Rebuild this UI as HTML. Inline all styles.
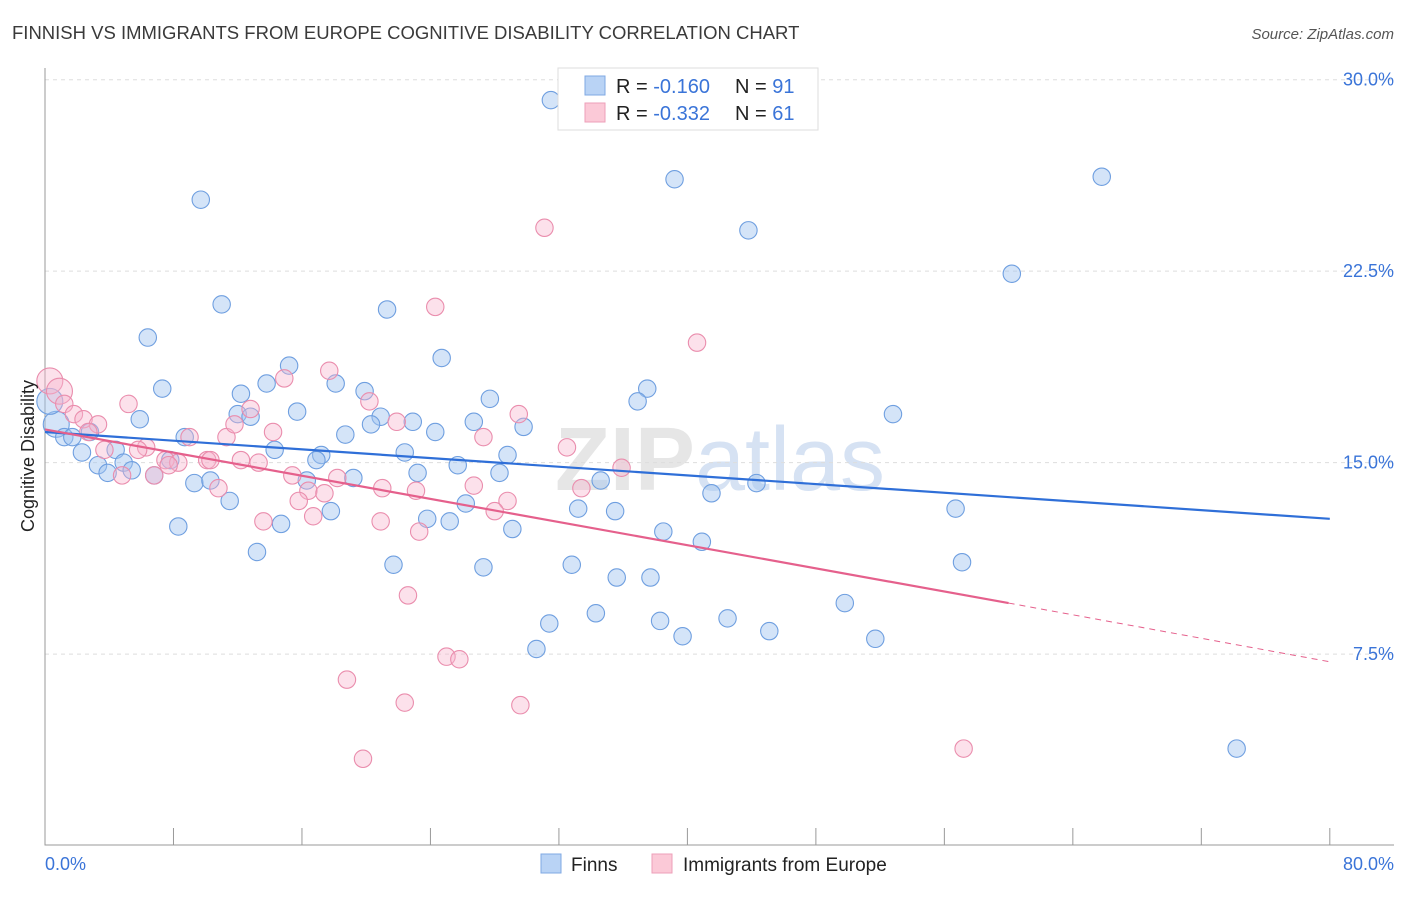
<!DOCTYPE html>
<html><head><meta charset="utf-8"><style>
body{margin:0;background:#fff;font-family:"Liberation Sans",sans-serif;}
svg text{font-family:"Liberation Sans",sans-serif;}
</style></head><body>
<svg id="c" width="1406" height="892">
<text x="12" y="39" font-size="18.5" fill="#3a3a3a">FINNISH VS IMMIGRANTS FROM EUROPE COGNITIVE DISABILITY CORRELATION CHART</text>
<text x="1394" y="39" font-size="15" fill="#555" font-style="italic" text-anchor="end">Source: ZipAtlas.com</text>
<text x="720" y="490" font-size="90" fill="#e6e6e6" text-anchor="middle" font-family="Liberation Serif"><tspan font-weight="bold">ZIP</tspan><tspan fill="#d6e2f3" font-family="Liberation Sans">atlas</tspan></text>
<g id="grid"></g><g id="marks"></g>
<text transform="translate(34,456) rotate(-90)" font-size="18" fill="#222" text-anchor="middle">Cognitive Disability</text>
<text x="45" y="870" font-size="18" fill="#3a74d8">0.0%</text>
<text x="1394" y="870" font-size="18" fill="#3a74d8" text-anchor="end">80.0%</text>
<g>
<rect x="558" y="68" width="260" height="62" fill="#fff" stroke="#ddd"/>
<rect x="585" y="76" width="20" height="19" fill="#b9d3f5" stroke="#7fa8e3"/>
<rect x="585" y="103" width="20" height="19" fill="#fbc9d7" stroke="#ee9fb8"/>
<text x="616" y="93" font-size="20" fill="#222">R = <tspan fill="#3a74d8">-0.160</tspan><tspan x="735">N = </tspan><tspan fill="#3a74d8">91</tspan></text>
<text x="616" y="120" font-size="20" fill="#222">R = <tspan fill="#3a74d8">-0.332</tspan><tspan x="735">N = </tspan><tspan fill="#3a74d8">61</tspan></text>
</g>
<g>
<rect x="541" y="854" width="20" height="19" fill="#b9d3f5" stroke="#7fa8e3"/>
<text x="571" y="871" font-size="19" fill="#222">Finns</text>
<rect x="652" y="854" width="20" height="19" fill="#fbc9d7" stroke="#ee9fb8"/>
<text x="683" y="871" font-size="19" fill="#222">Immigrants from Europe</text>
</g>
</svg>
<script>
const yTicks=[30,22.5,15,7.5];
const xTicks=[0,8,16,24,32,40,48,56,64,72,80];
const finnsX=[31.5,39.2,65.8,9.7,43.8,60.2,11.0,21.3,6.4,24.7,15.2,7.3,13.8,12.2,18.1,19.9,27.7,37.5,36.9,52.8,15.7,5.9,12.0,12.8,20.9,22.9,26.7,29.8,20.3,24.3,18.7,0.7,1.2,1.7,2.8,8.7,2.3,4.4,14.3,22.4,28.8,17.2,16.9,7.8,3.3,4.9,5.4,3.9,25.7,6.8,23.2,28.3,19.2,9.3,10.3,16.3,34.6,44.3,41.5,11.5,26.2,17.8,33.2,35.5,56.7,23.8,25.2,8.3,14.7,29.1,38.5,40.9,13.2,21.7,27.3,32.8,57.1,35.6,37.7,49.8,34.3,31.4,38.3,42.5,39.7,45.1,51.7,30.6,74.2,0.3];
const finnsY=[29.2,26.1,26.2,25.3,24.1,22.4,21.2,21.0,19.9,19.1,18.8,17.9,18.1,17.7,18.1,17.8,17.5,17.9,17.4,16.9,17.0,16.7,16.9,16.8,16.8,16.6,16.6,16.4,16.5,16.2,16.1,16.5,16.0,16.0,16.2,16.0,15.4,15.5,15.5,15.4,15.3,15.3,15.1,15.1,14.9,15.0,14.7,14.6,14.9,14.5,14.6,14.6,14.4,14.2,14.3,14.3,14.3,14.2,13.8,13.5,13.4,13.1,13.2,13.1,13.2,12.8,12.7,12.5,12.6,12.4,12.3,11.9,11.5,11.0,10.9,11.0,11.1,10.5,10.5,9.5,9.1,8.7,8.8,8.9,8.2,8.4,8.1,7.7,3.8,17.4];
const immX=[31.1,24.3,40.6,17.7,14.9,0.3,0.9,1.2,1.8,2.4,3.3,5.2,2.7,12.8,11.3,11.8,9.0,6.3,3.7,5.8,7.5,8.3,10.1,12.2,13.3,10.3,6.8,4.8,7.7,20.2,21.9,14.2,27.3,29.5,32.5,15.4,18.2,21.0,26.7,23.1,35.9,33.4,16.4,17.4,15.8,28.8,10.8,28.0,16.7,20.9,13.6,23.3,22.6,25.0,25.8,18.8,22.4,29.6,19.8,57.2];
const immY=[24.2,21.1,19.7,18.6,18.3,18.2,17.8,17.3,16.9,16.7,16.5,17.3,16.2,17.1,16.0,16.5,16.0,15.6,15.5,15.5,15.1,15.0,15.1,15.1,15.0,15.1,14.5,14.5,14.9,17.4,16.6,16.2,16.0,16.9,15.6,14.5,14.4,14.0,14.1,13.9,14.8,14.0,13.9,13.8,13.5,13.5,14.0,13.1,12.9,12.7,12.7,12.3,9.8,7.4,7.3,6.5,5.6,5.5,3.4,3.8];
const finnsLine=[16.2,12.8];
const immLine=[16.3,9.5,7.2];
const sx=v=>45+v*16.06, sy=v=>845.6-v*25.53;
const NS='http://www.w3.org/2000/svg';
const grid=document.getElementById('grid'), marks=document.getElementById('marks');
function mk(tag,attrs,parent){const e=document.createElementNS(NS,tag);for(const k in attrs)e.setAttribute(k,attrs[k]);parent.appendChild(e);return e;}
yTicks.forEach(t=>{
 const l=mk('line',{x1:45,x2:1394,y1:sy(t),y2:sy(t),stroke:'#ddd','stroke-dasharray':'4,4'},grid);
 
 
 const tx=mk('text',{x:1394,y:sy(t)+6,'font-size':18,fill:'#3a74d8','text-anchor':'end'},grid);
 tx.textContent=t.toFixed(1)+'%';
 
 
});
const ax=mk('path',{d:'M45 68 V845 H1394',stroke:'#999',fill:'none'},grid);


xTicks.forEach(t=>{
 const l=mk('line',{x1:sx(t),x2:sx(t),y1:828,y2:845,stroke:'#999'},grid);
 
 
});
function dots(X,Y,fill,stroke,name){
 X.forEach((x,i)=>{
  const big=x<1;
  const c=mk('circle',{cx:sx(x),cy:sy(Y[i]),r:big?13:8.7,fill:fill,stroke:stroke,'stroke-width':1.1},marks);
  
  
 });
}
dots(finnsX,finnsY,'rgba(160,195,240,0.45)','#6f9fe0','finns-point');
dots(immX,immY,'rgba(248,180,205,0.4)','#ea8dad','immigrants-point');
const bl=mk('line',{x1:sx(0),y1:sy(finnsLine[0]),x2:sx(80),y2:sy(finnsLine[1]),stroke:'#2f6fd8','stroke-width':2.2},marks);


const pl=mk('line',{x1:sx(0),y1:sy(immLine[0]),x2:sx(60),y2:sy(immLine[1]),stroke:'#e5608c','stroke-width':2.2},marks);


const pd=mk('line',{x1:sx(60),y1:sy(immLine[1]),x2:sx(80),y2:sy(immLine[2]),stroke:'#e5608c','stroke-width':1,'stroke-dasharray':'6,5'},marks);


</script>
</body></html>
